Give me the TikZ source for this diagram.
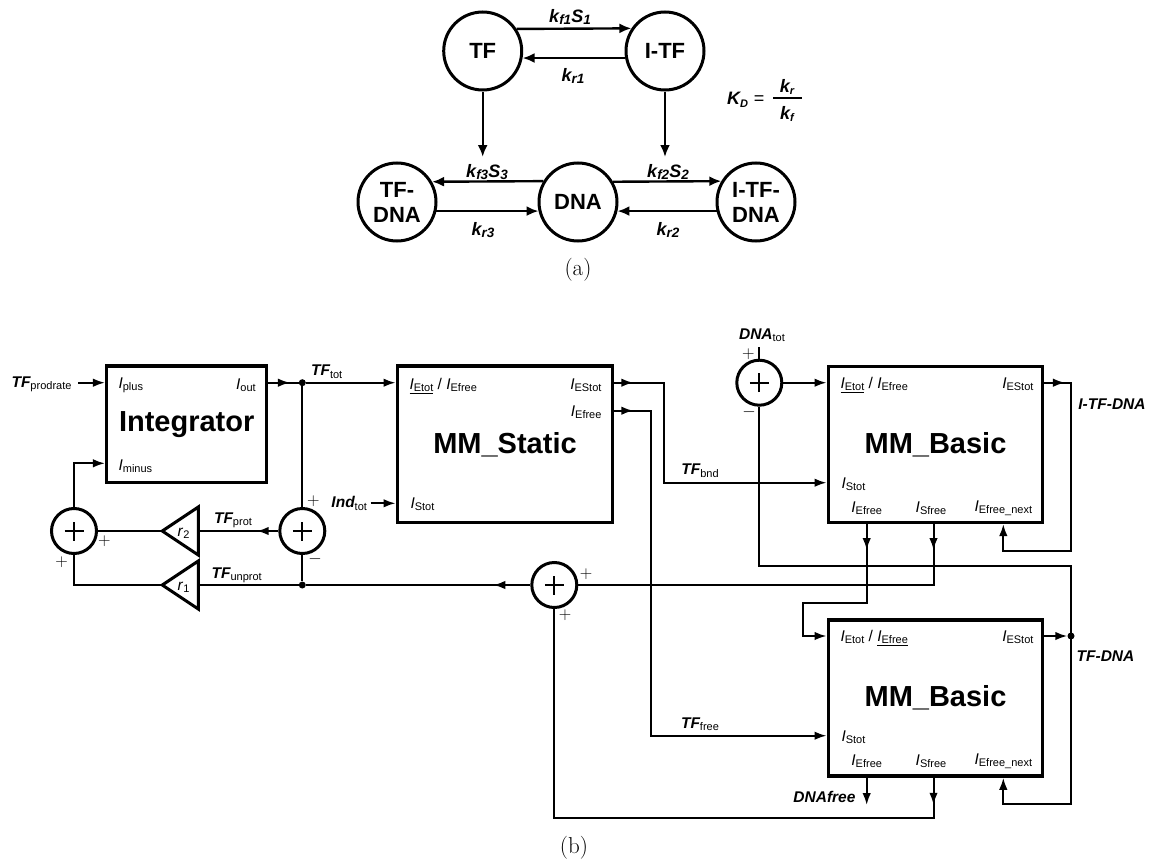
\documentclass[tikz,border=0pt]{standalone}
\usepackage{fontspec}
\newfontfamily\arial{Liberation Sans}
\usetikzlibrary{arrows.meta,decorations.markings,calc}

\newcommand{\sbx}[1]{\raisebox{-0.28ex}{\fontsize{11}{11}\selectfont\mdseries\upshape #1}}
\newcommand{\pin}[1]{\textit{I}\sbx{#1}}
\newcommand{\sig}[2]{\textbf{\textit{#1}}\sbx{#2}}
\newcommand{\ulbox}[1]{\setbox0\hbox{#1}\rlap{\rule[-5pt]{\wd0}{1.5pt}}\box0\relax}
\newcommand{\ksb}[1]{\raisebox{-0.3ex}{\fontsize{13.5}{13.5}\selectfont\bfseries\itshape #1}}
\newcommand{\kk}[1]{\textbf{\textit{k}}\ksb{#1}}

\begin{document}
\begin{tikzpicture}[x=1pt,y=-1pt,
  every node/.style={font={\arial\fontsize{15.5}{16}\selectfont}},
  wire/.style={line width=2pt},
  awire/.style={line width=2.4pt},
  arr/.style={-{Latex[length=12pt,width=8.5pt]}},
  tarr/.style={-{Latex[length=12pt,width=10pt]}},
  midarrow/.style={postaction={decorate,decoration={markings,mark=at position #1 with {\arrow{Latex[length=12pt,width=8.5pt]}}}}},
  bigc/.style={circle,draw,line width=3pt,minimum size=78pt,inner sep=0pt,align=center,
    font={\arial\bfseries\fontsize{22}{25}\selectfont}},
  klab/.style={font={\arial\bfseries\itshape\fontsize{18}{18}\selectfont}},
  blk/.style={draw,line width=3.5pt,inner sep=0pt,font={\arial\bfseries\fontsize{29}{30}\selectfont}},
  sumc/.style={circle,draw,line width=3pt,minimum size=45pt,inner sep=0pt,
    path picture={\draw[line width=1.8pt]
      ([xshift=-9.5pt]path picture bounding box.center) -- ([xshift=9.5pt]path picture bounding box.center)
      ([yshift=-9.5pt]path picture bounding box.center) -- ([yshift=9.5pt]path picture bounding box.center);}},
  dot/.style={circle,fill,inner sep=0pt,minimum size=7pt},
  tri/.style={line width=3pt,line join=miter},
  sgn/.style={font={\fontsize{17}{17}\selectfont},inner sep=0pt},
  captxt/.style={font={\fontsize{23}{25}\selectfont}},
  sglab/.style={font={\arial\bfseries\itshape\fontsize{15.5}{16}\selectfont}}
]
\useasboundingbox (0,0) rectangle (1151,867);

%% ---------------- (a) ----------------
\node[bigc] (tf) at (482.7,51) {TF};
\node[bigc] (itf) at (665,51) {I-TF};
\node[bigc] (tfdna) at (397,202) {TF-\\DNA};
\node[bigc] (dna) at (578,202) {DNA};
\node[bigc] (itfdna) at (756,202) {I-TF-\\DNA};
\coordinate (tfd) at (482.7,157);
\coordinate (itfd) at (665,157);

\draw[awire,tarr] (tf.33.8) -- (itf.146.2);
\draw[awire,tarr] (itf.190.8) -- (tf.-10.8);
\draw[awire,tarr] (tf) -- (tfd);
\draw[awire,tarr] (itf) -- (itfd);
\draw[awire,tarr] (dna.149.1) -- (tfdna.30.9);
\draw[awire,tarr] (tfdna.-13.3) -- (dna.193.3);
\draw[awire,tarr] (dna.30.9) -- (itfdna.149.1);
\draw[awire,tarr] (itfdna.193.3) -- (dna.-13.3);

\node[klab] (l1) at (570,17) {\kk{f1}\textbf{\textit{S}}\ksb{1}};
\node[klab] (l2) at (573,76) {\kk{r1}};
\node[klab] (l3) at (487,172) {\kk{f3}\textbf{\textit{S}}\ksb{3}};
\node[klab] (l4) at (483,230) {\kk{r3}};
\node[klab] (l5) at (668,172) {\kk{f2}\textbf{\textit{S}}\ksb{2}};
\node[klab] (l6) at (668,230) {\kk{r2}};

\node[klab,anchor=east] (kd) at (768,100) {\textit{K}\raisebox{-0.3ex}{\fontsize{11}{11}\selectfont\bfseries\itshape D}\,\,{\mdseries\upshape =}};
\node[klab] (kr) at (787,87) {\textit{k}\raisebox{-0.3ex}{\fontsize{11}{11}\selectfont\bfseries\itshape r}};
\node[klab] (kf) at (787,114) {\textit{k}\raisebox{-0.3ex}{\fontsize{11}{11}\selectfont\bfseries\itshape f}};
\coordinate (fr1) at (773,98);
\coordinate (fr2) at (802,98);
\draw[line width=1.6pt] (fr1) -- (fr2);

\node[captxt] (capa) at (578,270) {(a)};

%% ---------------- (b) ----------------
\node[blk,minimum width=160pt,minimum height=116.7pt] (integ) at (186.7,424.3) {Integrator};
\node[blk,minimum width=215.4pt,minimum height=156.7pt] (mst) at (505,444.35) {MM\_Static};
\node[blk,minimum width=214.4pt,minimum height=155.6pt] (mb1) at (935.5,444.5) {MM\_Basic};
\node[blk,minimum width=214.4pt,minimum height=156pt] (mb2) at (935.5,698) {MM\_Basic};

\node[sumc] (s1) at (74,531) {};
\node[sumc] (s2) at (302.3,531) {};
\node[sumc] (s3) at (554.3,585) {};
\node[sumc] (s4) at (759.3,382.7) {};

\node[dot] (d1) at (302.3,382.7) {};
\node[dot] (d2) at (302.3,585) {};
\node[dot] (d3) at (1071,636) {};

% triangles
\coordinate (r2tip) at (162.3,531);
\coordinate (r2in) at (198.3,531);
\coordinate (r1tip) at (162.3,585);
\coordinate (r1in) at (198.3,585);
\draw[tri] (r2tip) -- (198.3,507) -- (198.3,555) -- cycle;
\draw[tri] (r1tip) -- (198.3,561) -- (198.3,609) -- cycle;
\node (r2l) at (183.5,533) {\textit{r}\sbx{2}};
\node (r1l) at (183.5,587) {\textit{r}\sbx{1}};

% helper coordinates
\coordinate (yt) at (0,382.7);
\coordinate (yf) at (0,410.7);
\coordinate (ys) at (0,482.7);
\coordinate (ym) at (0,463.3);
\coordinate (y566) at (0,566);
\coordinate (y550) at (0,550.7);
\coordinate (y602) at (0,602.7);
\coordinate (y636) at (0,636);
\coordinate (y736) at (0,735.7);
\coordinate (y804) at (0,804);
\coordinate (y805) at (0,805);
\coordinate (y818) at (0,818.3);
\coordinate (yind) at (0,503.3);
\coordinate (xb) at (664,0);
\coordinate (xf) at (651,0);
\coordinate (xe) at (866.7,0);
\coordinate (xs) at (933.5,0);
\coordinate (xn) at (1003.3,0);
\coordinate (xr) at (1071,0);
\coordinate (xl) at (802.7,0);
\coordinate (tfp) at (78.3,382.7);
\coordinate (dnatop) at (759.3,346.7);

% signal labels
\node[sglab,anchor=east] (tfpl) at (75,384) {\sig{TF}{prodrate}};
\node[sglab] (tftl) at (326.7,371.7) {\sig{TF}{tot}};
\node[sglab,anchor=east] (indl) at (370.5,503.3) {\sig{Ind}{tot}};
\node[sglab] (tfprl) at (233,520) {\sig{TF}{prot}};
\node[sglab] (tful) at (236.7,575) {\sig{TF}{unprot}};
\node[sglab] (tfbl) at (700,470.7) {\sig{TF}{bnd}};
\node[sglab] (tffl) at (700,724) {\sig{TF}{free}};
\node[sglab] (dnatl) at (762,335) {\sig{DNA}{tot}};
\node[sglab] (itfdl) at (1112,404) {I-TF-DNA};
\node[sglab] (tfdl) at (1105.5,656) {TF-DNA};
\node[sglab,anchor=east] (dnafl) at (859,797) {DNAfree};

% port labels
\node[anchor=west] (p1) at (115,385) {\pin{plus}};
\node[anchor=east] (p2) at (259.3,385) {\pin{out}};
\node[anchor=west] (p3) at (115,466) {\pin{minus}};
\node[anchor=west] (p4) at (406,386) {\ulbox{\pin{Etot}} / \pin{Efree}};
\node[anchor=east] (p5) at (605,385) {\pin{EStot}};
\node[anchor=east] (p6) at (605,412) {\pin{Efree}};
\node[anchor=west] (p7) at (407,504) {\pin{Stot}};
\node[anchor=west] (q1) at (837,385) {\ulbox{\pin{Etot}} / \pin{Efree}};
\node[anchor=east] (q2) at (1037,384) {\pin{EStot}};
\node[anchor=west] (q3) at (838,484) {\pin{Stot}};
\node (q4) at (866.7,508) {\pin{Efree}};
\node (q5) at (931,508) {\pin{Sfree}};
\node (q6) at (1003.3,508) {\pin{Efree\_next}};
\node[anchor=west] (u1) at (837,638.3) {\pin{Etot} / \ulbox{\pin{Efree}}};
\node[anchor=east] (u2) at (1037,637.3) {\pin{EStot}};
\node[anchor=west] (u3) at (838,737.3) {\pin{Stot}};
\node (u4) at (866.7,761.3) {\pin{Efree}};
\node (u5) at (931,761.3) {\pin{Sfree}};
\node (u6) at (1003.3,761.3) {\pin{Efree\_next}};

% signs
\node[sgn] (g1) at (104.3,541) {$+$};
\node[sgn] (g2) at (61.7,561.7) {$+$};
\node[sgn] (g3) at (313.3,501) {$+$};
\node[sgn] (g4) at (315,559.5) {$-$};
\node[sgn] (g5) at (586,574) {$+$};
\node[sgn] (g6) at (565,615) {$+$};
\node[sgn] (g7) at (748.3,354) {$+$};
\node[sgn] (g8) at (749,411.7) {$-$};

% wires
\draw[wire,arr] (tfp) -- (integ.west |- tfp);
\draw[wire,midarrow=21.5pt] (integ.east |- d1) -- (d1);
\draw[wire,arr] (d1) -- (mst.west |- d1);
\draw[wire] (d1) -- (s2);
\draw[wire,midarrow=21.6pt] (s2) -- (r2in);
\draw[wire] (r2tip) -- (s1);
\draw[wire,arr] (s1.north) |- (integ.west |- ym);
\draw[wire] (s1.south) |- (r1tip);
\draw[wire] (s2) -- (d2);
\draw[wire] (d2) -- (r1in);
\draw[wire,midarrow=37pt] (s3) -- (d2);
\draw[wire,arr] (indl.east |- yind) -- (mst.west |- yind);

\draw[wire,arr,midarrow=18.9pt] (mst.east |- yt) -- (xb |- yt) |- (mb1.west |- ys);
\draw[wire,arr,midarrow=18.9pt] (mst.east |- yf) -- (xf |- yf) |- (mb2.west |- y736);

\draw[wire] (s4) -- (dnatop);
\draw[wire,arr] (s4) -- (mb1.west |- s4);
\draw[wire,arr] (s4.south) |- (xr |- y566) -- (xr |- y804) -| (xn |- mb2.south);
\draw[wire,arr,midarrow=20.5pt] (mb1.east |- yt) -- (xr |- yt) |- (xn |- y550) -- (xn |- mb1.south);
\draw[wire,arr,midarrow=26pt] (xe |- mb1.south) |- (xl |- y602) |- (mb2.west |- y636);
\draw[wire,midarrow=26pt] (xs |- mb1.south) |- (s3);
\draw[wire,arr] (mb2.east |- y636) -- (d3);
\draw[wire,arr] (xe |- mb2.south) -- (xe |- y805);
\draw[wire,midarrow=27pt] (xs |- mb2.south) |- (s3.south |- y818) -- (s3.south);

\node[captxt] (capb) at (574,848) {(b)};
\end{tikzpicture}
\end{document}
